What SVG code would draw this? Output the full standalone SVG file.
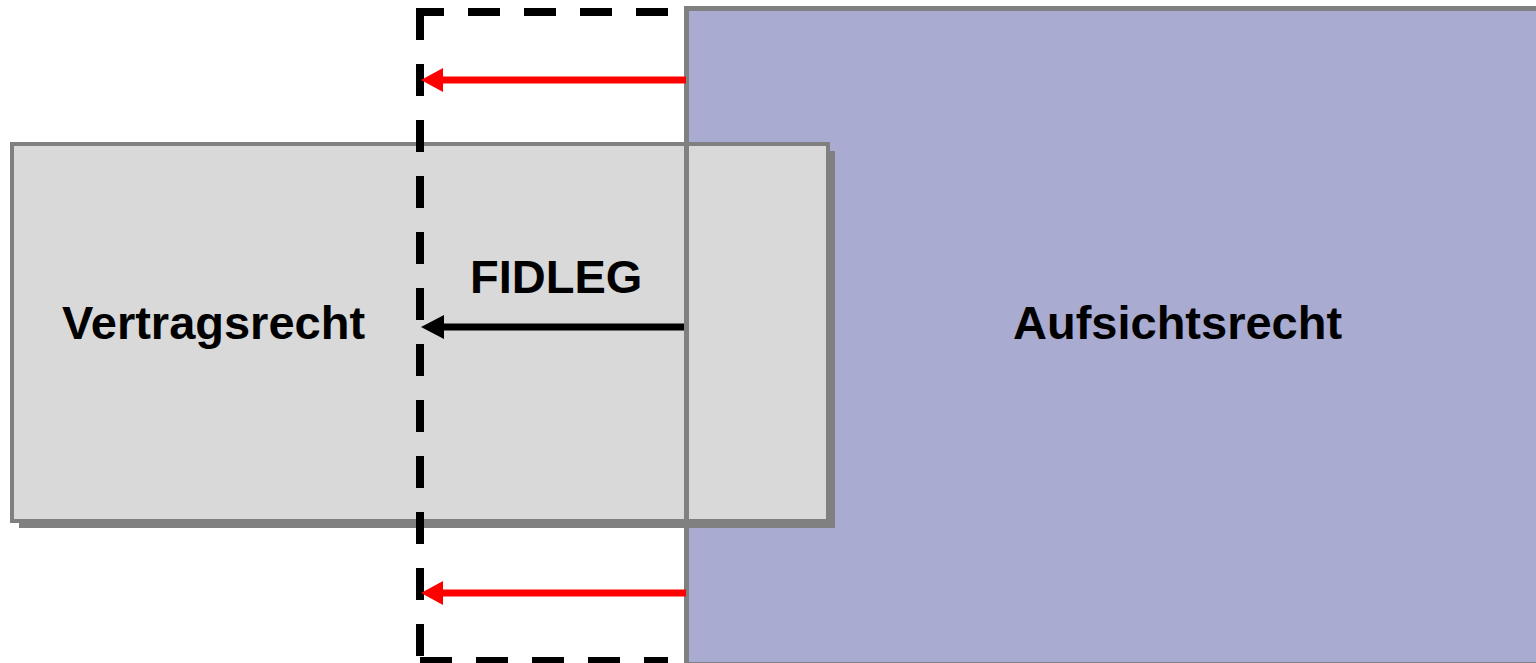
<svg xmlns="http://www.w3.org/2000/svg" width="1536" height="663" viewBox="0 0 1536 663">
<style>
.lbl{font-family:"Liberation Sans",Arial,sans-serif;font-weight:bold;font-size:47px;fill:#000}
.dash{stroke:#000;stroke-width:8;fill:none;stroke-dasharray:32 24}
</style>
<defs>
<marker id="ahRed" markerUnits="userSpaceOnUse" markerWidth="24" markerHeight="26" refX="0" refY="13" orient="auto">
<path d="M0,1 L22,13 L0,25 Z" fill="#FF0000"/>
</marker>
<marker id="ahBlack" markerUnits="userSpaceOnUse" markerWidth="24" markerHeight="26" refX="0" refY="13" orient="auto">
<path d="M0,1 L23,13 L0,25 Z" fill="#000"/>
</marker>
</defs>
<rect width="1536" height="663" fill="#fff"/>
<g id="aufsichtsrecht">
<rect x="686.5" y="8.5" width="870" height="656" fill="#A9ABD0" stroke="#808080" stroke-width="5"/>
<text class="lbl" x="1013" y="339">Aufsichtsrecht</text>
</g>
<g id="vertragsrecht">
<rect x="19" y="151" width="816" height="377" fill="#808080"/>
<rect x="12" y="144" width="816" height="377" fill="#D9D9D9" stroke="#808080" stroke-width="4"/>
<line x1="686.5" y1="142" x2="686.5" y2="523" stroke="#808080" stroke-width="5"/>
<text class="lbl" x="62" y="339">Vertragsrecht</text>
</g>
<g id="fidleg-bereich">
<line class="dash" x1="416" y1="12" x2="668" y2="12" stroke-dashoffset="4"/>
<line class="dash" x1="420" y1="8" x2="420" y2="663"/>
<line class="dash" x1="420" y1="661" x2="668" y2="661"/>
<text class="lbl" x="470" y="293">FIDLEG</text>
</g>
<g id="connectors">
<line x1="686" y1="80" x2="443" y2="80" stroke="#FF0000" stroke-width="7" marker-end="url(#ahRed)"/>
<line x1="686" y1="593" x2="443" y2="593" stroke="#FF0000" stroke-width="7" marker-end="url(#ahRed)"/>
<line x1="684" y1="327" x2="444" y2="327" stroke="#000" stroke-width="7" marker-end="url(#ahBlack)"/>
</g>
</svg>
